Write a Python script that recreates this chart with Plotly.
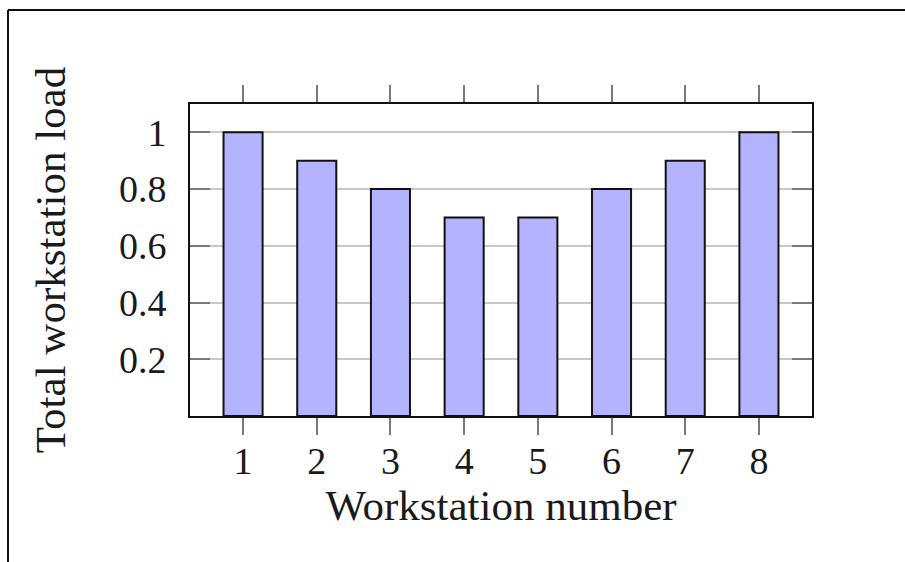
import plotly.graph_objects as go

# Workstation loads
stations = [1, 2, 3, 4, 5, 6, 7, 8]
loads = [1.0, 0.9, 0.8, 0.7, 0.7, 0.8, 0.9, 1.0]
y_ticks = [0.2, 0.4, 0.6, 0.8, 1.0]
y_tick_text = ["0.2", "0.4", "0.6", "0.8", "1"]

W, H = 905, 562
L, R, T, B = 190, 812, 104, 416  # plot-area edges in pixels

fig = go.Figure(
    go.Bar(
        x=stations,
        y=loads,
        width=0.53,
        marker=dict(color="#b3b3ff", line=dict(color="#111111", width=2)),
    )
)

font = dict(family="Liberation Serif, Times New Roman, serif", size=38, color="#1a1a1a")
title_font = dict(family="Liberation Serif, Times New Roman, serif", size=43, color="#1a1a1a")


def px_to_paper_x(px):
    return (px - L) / (R - L)


def px_to_paper_y(py):
    return (B - py) / (B - T)


# Outer frame (top and left edges)
fx, fy = px_to_paper_x(8), px_to_paper_y(10)
fig.add_shape(type="line", xref="paper", yref="paper", x0=fx, y0=fy, x1=fx,
              y1=px_to_paper_y(H + 5), line=dict(color="#111111", width=2))
fig.add_shape(type="line", xref="paper", yref="paper", x0=fx, y0=fy,
              x1=px_to_paper_x(W + 5), y1=fy, line=dict(color="#111111", width=2))

fig.update_layout(
    width=W,
    height=H,
    margin=dict(l=L, r=W - R, t=T, b=H - B),
    paper_bgcolor="white",
    plot_bgcolor="white",
    showlegend=False,
    font=font,
    xaxis=dict(
        range=[0.28, 8.72],
        tickvals=stations,
        ticks="outside",
        ticklen=17,
        tickwidth=2,
        tickcolor="#7a7a7a",
        mirror="ticks",
        showline=True,
        linecolor="#111111",
        linewidth=2,
        showgrid=False,
        zeroline=False,
        tickfont=font,
        ticklabelstandoff=-7,
        title=dict(text="Workstation number", font=title_font, standoff=0),
    ),
    yaxis=dict(
        range=[0, 1.1],
        tickvals=y_ticks,
        ticktext=y_tick_text,
        ticks="inside",
        ticklen=20,
        tickwidth=2,
        tickcolor="#7a7a7a",
        mirror="ticks",
        showline=True,
        linecolor="#111111",
        linewidth=2,
        showgrid=True,
        gridcolor="#c8c8c8",
        gridwidth=1.5,
        zeroline=False,
        tickfont=font,
        ticklabelstandoff=14,
        title=dict(text="Total workstation load", font=title_font, standoff=40),
    ),
)

fig.write_html("out.html")
